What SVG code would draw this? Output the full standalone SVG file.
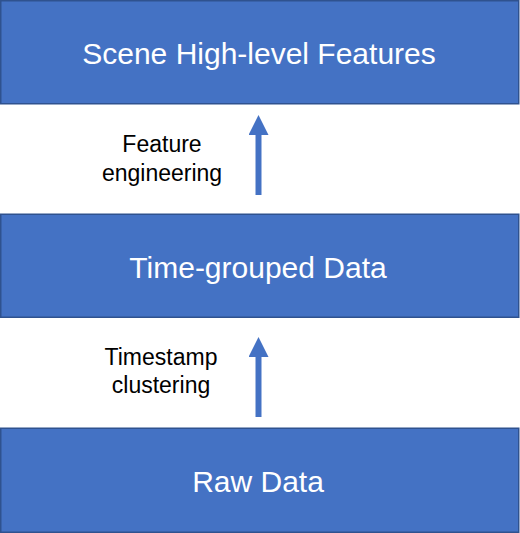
<svg xmlns="http://www.w3.org/2000/svg" width="520" height="533" viewBox="0 0 520 533">
  <style>
    .box { fill: #4472C4; stroke: #2F528F; stroke-width: 1.5; }
    .boxtext { font-family: "Liberation Sans", Arial, sans-serif; font-size: 30px; fill: #FFFFFF; text-anchor: middle; }
    .lbl { font-family: "Liberation Sans", Arial, sans-serif; font-size: 23px; fill: #000000; text-anchor: middle; }
    .conn { stroke: #4472C4; stroke-width: 6; fill: none; }
  </style>
  <defs>
    <marker id="head" markerUnits="userSpaceOnUse" markerWidth="20" markerHeight="20" viewBox="0 0 20 20" refX="0" refY="10" orient="auto">
      <polygon points="0,0 20,10 0,20" fill="#4472C4"/>
    </marker>
  </defs>
  <rect width="520" height="533" fill="#FFFFFF"/>

  <g id="node-scene">
    <rect class="box" x="0.75" y="0.75" width="518" height="103"/>
    <text class="boxtext" x="259" y="64">Scene High-level Features</text>
  </g>

  <g id="node-time">
    <rect class="box" x="0.75" y="214.25" width="518" height="103"/>
    <text class="boxtext" x="258" y="278">Time-grouped Data</text>
  </g>

  <g id="node-raw">
    <rect class="box" x="0.75" y="428.25" width="518" height="104"/>
    <text class="boxtext" x="258" y="492">Raw Data</text>
  </g>

  <g id="connectors">
    <line class="conn" x1="258.5" y1="195" x2="258.5" y2="135" marker-end="url(#head)"/>
    <line class="conn" x1="258.5" y1="417" x2="258.5" y2="357" marker-end="url(#head)"/>
  </g>

  <g id="labels">
    <text class="lbl" x="162" y="152">Feature</text>
    <text class="lbl" x="162" y="181">engineering</text>
    <text class="lbl" x="161" y="365">Timestamp</text>
    <text class="lbl" x="161" y="393">clustering</text>
  </g>
</svg>
